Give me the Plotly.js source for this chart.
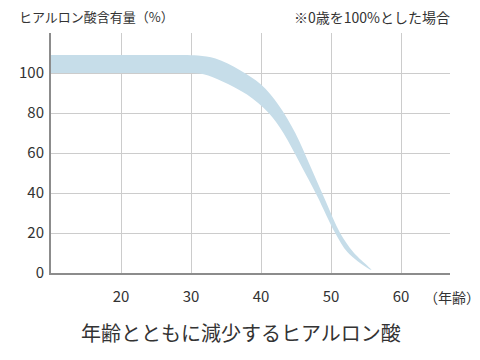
<!DOCTYPE html>
<html>
<head>
<meta charset="utf-8">
<script src="https://cdn.plot.ly/plotly-3.0.1.min.js"></script>
<style>html,body{margin:0;padding:0;background:#fff;}#chart{width:480px;height:360px;}</style>
</head>
<body>
<div id="chart"></div>
<script>
// Upper edge of the band (age, hyaluronic acid %)
const upperAge = [8, 12, 16, 20, 24, 27, 29, 31, 33.5, 37, 40, 42.5, 44.9, 47, 49.2, 51.3, 53.2, 55.8];
const upperVal = [109, 109, 109, 109, 109, 109, 109, 108.7, 107.2, 101.4, 94.2, 84, 70, 53.7, 36.2, 20, 10.4, 1.5];
// Lower edge of the band (the tip point is shared with the upper edge)
const lowerAge = [8, 12, 16, 20, 24, 27, 29.5, 31.8, 34.5, 38, 41.1, 43.2, 45.6, 48, 50.6, 52.4, 55.2];
const lowerVal = [100, 100, 100, 100, 100, 100, 100, 99.4, 95.8, 89.2, 80, 70, 54.6, 38.6, 20, 10.2, 2.5];

const xTicks = [20, 30, 40, 50, 60];
const yTicks = [0, 20, 40, 60, 80, 100];

const yTitle = 'ヒアルロン酸含有量（%）';
const note = '※0歳を100%とした場合';
const xTitle = '（年齢）';
const caption = '年齢とともに減少するヒアルロン酸';

const FONT = '"Noto Sans CJK JP", "Noto Sans", sans-serif';

const bandX = upperAge.concat(lowerAge.slice().reverse());
const bandY = upperVal.concat(lowerVal.slice().reverse());

const data = [{
  x: bandX, y: bandY, type: 'scatter', mode: 'lines',
  fill: 'toself', fillcolor: '#c6dde9',
  line: {width: 0, shape: 'spline', smoothing: 1, color: '#c6dde9'},
  hoverinfo: 'skip', showlegend: false
}];

const layout = {
  width: 480, height: 360,
  margin: {l: 51, r: 30, t: 33, b: 87, pad: 0},
  paper_bgcolor: '#fff', plot_bgcolor: '#fff',
  font: {family: FONT, color: '#333', size: 14},
  showlegend: false,
  xaxis: {
    range: [10, 67], tickvals: xTicks, ticktext: xTicks.map(String),
    showgrid: true, gridcolor: '#cccccc', gridwidth: 1,
    zeroline: false, showline: true, linecolor: '#8c8c8c', linewidth: 2,
    ticks: '', ticklabelstandoff: 9,
    tickfont: {family: FONT, size: 15, color: '#333'}
  },
  yaxis: {
    range: [0, 120], tickvals: yTicks, ticktext: yTicks.map(String),
    showgrid: true, gridcolor: '#cccccc', gridwidth: 1,
    zeroline: false, showline: true, linecolor: '#8c8c8c', linewidth: 2,
    ticks: '', ticklabelstandoff: 2,
    tickfont: {family: FONT, size: 15, color: '#333'}
  },
  annotations: [
    {text: yTitle, xref: 'paper', yref: 'paper', x: -0.085, y: 1.067, xanchor: 'left', yanchor: 'middle', showarrow: false, font: {family: FONT, size: 13, color: '#333'}},
    {text: note, xref: 'paper', yref: 'paper', x: 1.005, y: 1.067, xanchor: 'right', yanchor: 'middle', showarrow: false, font: {family: FONT, size: 14, color: '#333'}},
    {text: xTitle, xref: 'paper', yref: 'paper', x: 1.005, y: -0.1, xanchor: 'center', yanchor: 'middle', showarrow: false, font: {family: FONT, size: 14, color: '#333'}},
    {text: caption, xref: 'paper', yref: 'paper', x: 0.476, y: -0.246, xanchor: 'center', yanchor: 'middle', showarrow: false, font: {family: FONT, size: 20, color: '#333'}}
  ]
};

Plotly.newPlot('chart', data, layout, {staticPlot: true, displayModeBar: false});
</script>
</body>
</html>
